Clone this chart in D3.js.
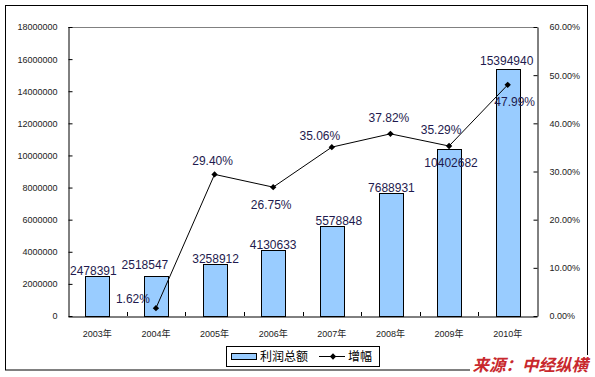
<!DOCTYPE html>
<html><head><meta charset="utf-8">
<script src="https://cdn.jsdelivr.net/npm/d3@7"></script>
<style>
html,body{margin:0;padding:0;background:#fff;}
svg{display:block;font-family:"Liberation Sans",Arial,"Noto Sans CJK SC",sans-serif;}
</style></head>
<body>
<svg id="c" width="595" height="377"></svg>
<script>
// ---- data ----
const years = ["2003年","2004年","2005年","2006年","2007年","2008年","2009年","2010年"];
const profit = [2478391,2518547,3258912,4130633,5578848,7688931,10402682,15394940];
const growth = [null,1.62,29.40,26.75,35.06,37.82,35.29,47.99];
const leftTicks = [0,2000000,4000000,6000000,8000000,10000000,12000000,14000000,16000000,18000000];
const rightTicks = [0,10,20,30,40,50,60];
const legendNames = ["利润总额","增幅"];
const sourceText = "来源：中经纵横";

// ---- label placement (layout only) ----
const barLabelOff = [[-4,-1],[-11,-7],[1,-1],[0,-1],[7,-1],[1,-1],[2,18],[-1,-4]];
const pctLabelOff = [null,[-23,-5],[-2,-9],[-2,22],[-12,-7],[-1.5,-11.5],[-8,-12],[7,21]];

const svg = d3.select("#c");
const L=68, R=537, T=27, B=316;

// outer border
svg.append("rect").attr("x",5.5).attr("y",5.5).attr("width",582).attr("height",364.5)
  .attr("fill","#fff").attr("stroke","#000").attr("stroke-width",1);

const x = d3.scaleBand().domain(years).range([L,R]).padding(0);
const yL = d3.scaleLinear().domain([0,18000000]).range([B,T]);
const yR = d3.scaleLinear().domain([0,60]).range([B,T]);

// plot top line
svg.append("line").attr("x1",L).attr("x2",R).attr("y1",T+0.5).attr("y2",T+0.5)
  .attr("stroke","#808080");

// bars
const bw = x.bandwidth()*0.405;
svg.append("g").selectAll("rect").data(profit).join("rect")
  .attr("x",(d,i)=>Math.round(x(years[i])+x.bandwidth()/2-bw/2)+0.5)
  .attr("y",d=>Math.round(yL(d))+0.5)
  .attr("width",Math.round(bw))
  .attr("height",d=>B-Math.round(yL(d)))
  .attr("fill","#99CCFF").attr("stroke","#000").attr("stroke-width",1);

// axes
const axL = svg.append("g").attr("transform",`translate(${L+0.5},0)`)
  .call(d3.axisLeft(yL).tickValues(leftTicks).tickSizeInner(-4).tickSizeOuter(0).tickPadding(11).tickFormat(d3.format("d")));
const axR = svg.append("g").attr("transform",`translate(${R+0.5},0)`)
  .call(d3.axisRight(yR).tickValues(rightTicks).tickSizeInner(-4).tickSizeOuter(0).tickPadding(12).tickFormat(d=>d.toFixed(2)+"%"));
const axB = svg.append("g").attr("transform",`translate(0,${B+0.5})`)
  .call(d3.axisBottom(x).tickSize(0).tickPadding(14));
// x ticks at band boundaries (upward)
svg.append("g").selectAll("line").data(years.slice(1)).join("line")
  .attr("x1",d=>Math.round(x(d))+0.5).attr("x2",d=>Math.round(x(d))+0.5)
  .attr("y1",B).attr("y2",B-4).attr("stroke","#000");

[axL,axR,axB].forEach(a=>{
  a.selectAll(".domain").attr("stroke","#000");
  a.selectAll(".tick line").attr("stroke","#000");
  a.selectAll("text").attr("font-size",9).attr("fill","#222")
   .attr("font-family",'"Liberation Sans",Arial,"Noto Sans CJK SC",sans-serif');
});
axR.selectAll(".tick line").attr("x2",-4);

// bar value labels
svg.append("g").selectAll("text").data(profit).join("text")
  .attr("x",(d,i)=>x(years[i])+x.bandwidth()/2+barLabelOff[i][0])
  .attr("y",(d,i)=>yL(d)+barLabelOff[i][1])
  .attr("text-anchor","middle").attr("font-size",12).attr("fill","#1e1a4e")
  .text(d=>d);

// growth line
const pts = growth.map((g,i)=>({g,i})).filter(d=>d.g!==null);
const line = d3.line().x(d=>x(years[d.i])+x.bandwidth()/2).y(d=>yR(d.g));
svg.append("path").datum(pts).attr("d",line).attr("fill","none").attr("stroke","#000").attr("stroke-width",1);
const sym = d3.symbol().type(d3.symbolSquare).size(20);
svg.append("g").selectAll("path").data(pts).join("path")
  .attr("d",sym)
  .attr("transform",d=>`translate(${x(years[d.i])+x.bandwidth()/2},${yR(d.g)}) rotate(45)`)
  .attr("fill","#000");

// growth labels
svg.append("g").selectAll("text").data(pts).join("text")
  .attr("x",d=>x(years[d.i])+x.bandwidth()/2+pctLabelOff[d.i][0])
  .attr("y",d=>yR(d.g)+pctLabelOff[d.i][1])
  .attr("text-anchor","middle").attr("font-size",12).attr("fill","#1e1a4e")
  .text(d=>d.g.toFixed(2)+"%");

// legend
const lg = svg.append("g");
lg.append("rect").attr("x",226.5).attr("y",346.5).attr("width",153).attr("height",20)
  .attr("fill","#fff").attr("stroke","#000");
lg.append("rect").attr("x",231.5).attr("y",353.5).attr("width",25).attr("height",6)
  .attr("fill","#99CCFF").attr("stroke","#000");
lg.append("text").attr("x",260).attr("y",361).attr("font-size",12).attr("fill","#000")
  .attr("font-family",'"Noto Sans CJK SC",sans-serif').text(legendNames[0]);
lg.append("line").attr("x1",319).attr("x2",345).attr("y1",356.5).attr("y2",356.5).attr("stroke","#000");
lg.append("path").attr("d",sym).attr("transform","translate(333,356.5) rotate(45)").attr("fill","#000");
lg.append("text").attr("x",348).attr("y",361).attr("font-size",12).attr("fill","#000")
  .attr("font-family",'"Noto Sans CJK SC",sans-serif').text(legendNames[1]);

// source
svg.append("rect").attr("x",470).attr("y",355).attr("width",125).attr("height",22).attr("fill","#fff");
svg.append("text").attr("x",588).attr("y",371).attr("text-anchor","end")
  .attr("font-size",16.5).attr("font-weight","bold").attr("font-style","italic")
  .attr("fill","#C8282D").attr("font-family",'"Noto Sans CJK SC",sans-serif')
  .text(sourceText);
</script>
</body></html>
